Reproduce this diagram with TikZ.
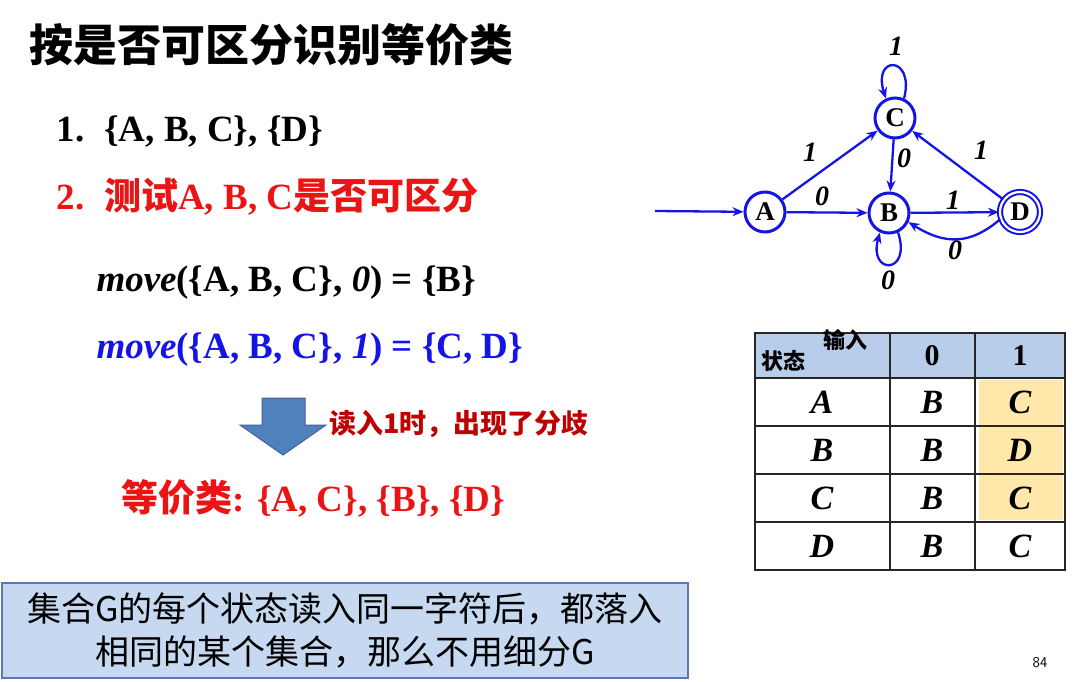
\documentclass[tikz,border=0pt]{standalone}
\usepackage{fontspec}
\setmainfont{Liberation Serif}
\newfontfamily\cjk{Noto Sans CJK SC}
\usetikzlibrary{arrows.meta}
\definecolor{dblue}{RGB}{20,20,230}
\definecolor{dred}{RGB}{235,20,20}
\definecolor{hdr}{RGB}{183,205,233}
\definecolor{yel}{RGB}{255,232,170}
\definecolor{boxf}{RGB}{198,217,241}
\definecolor{boxd}{RGB}{90,120,180}
\definecolor{arrf}{RGB}{79,129,189}
\begin{document}
\begin{tikzpicture}[x=1pt,y=-1pt,
  st/.style={circle,draw=dblue,line width=3pt,minimum size=40pt,inner sep=0pt,font=\fontsize{27}{27}\selectfont\bfseries},
  ed/.style={draw=dblue,line width=2.3pt,-{Stealth[length=11pt,width=9pt]}},
  el/.style={font=\fontsize{28}{28}\selectfont\bfseries\itshape},
  tl/.style={anchor=west,font=\fontsize{37}{37}\selectfont\bfseries},
  cell/.style={font=\fontsize{34}{34}\selectfont\bfseries\itshape}]
\useasboundingbox (0,0) rectangle (1088,682);
\node[anchor=west,font=\cjk\fontsize{44}{44}\selectfont\bfseries] (title) at (26,45) {按是否可区分识别等价类};
\node[tl] (l1) at (53,132) {1.\hspace{20pt}\{A, B, C\}, \{D\}};
\node[tl,text=dred] (l2) at (53,197) {2.\hspace{20pt}{\cjk 测试}A, B, C{\cjk 是否可区分}};
\node[tl] (l3) at (93,283) {\textit{move}(\{A, B, C\}, \textit{0}) = \{B\}};
\node[tl,text=dblue] (l4) at (93,350) {\textit{move}(\{A, B, C\}, \textit{1}) = \{C, D\}};
\draw[draw=boxd!80!black,line width=1pt,fill=arrf] (262,398) -- (305,398) -- (305,425) -- (326,425) -- (283,455) -- (240,425) -- (262,425) -- cycle;
\node[anchor=west,text=red!75!black,font=\cjk\fontsize{27}{27}\selectfont\bfseries] (note) at (326,424) {读入1时，出现了分歧};
\node[tl,text=dred] (l5) at (118,498) {{\cjk 等价类}: \{A, C\}, \{B\}, \{D\}};
\node[draw=boxd,line width=1.2pt,fill=boxf,minimum width=686pt,minimum height=95pt,align=center,font=\cjk\fontsize{34}{43}\selectfont] (box) at (345,630.5) {集合G的每个状态读入同一字符后，都落入\\相同的某个集合，那么不用细分G};
\node[font=\fontsize{15}{15}\selectfont\sffamily] (pg) at (1040,663) {84};
% graph
\node[st] (A) at (765,212) {A};
\node[st] (C) at (895,118) {C};
\node[st] (B) at (889,213) {B};
\node[st,double=white,double distance=2.2pt,line width=2pt,minimum size=40pt] (D) at (1020,212) {D};
\coordinate (s) at (655,211);
\draw[ed] (s) -- (A);
\draw[ed] (A) -- (C);
\draw[ed] (A) -- (B);
\draw[ed] (C) -- (B);
\draw[ed] (B) -- (D);
\draw[ed] (D) -- (C);
\draw[ed] (D.200) .. controls (970,245) and (945,245) .. (B.-25);
\draw[ed] (C.65) .. controls (915,55) and (872,55) .. (C.115);
\draw[ed] (B.-65) .. controls (912,275) and (868,275) .. (B.-115);
\node[el] at (810,152) {1};
\node[el] at (904,158) {0};
\node[el] at (822,196) {0};
\node[el] at (953,200) {1};
\node[el] at (955,250) {0};
\node[el] at (981,150) {1};
\node[el] at (896,46) {1};
\node[el] at (888,280) {0};
% table
\fill[hdr] (755,333) rectangle (1065,378);
\fill[yel] (979,380) rectangle (1063,520);
\draw[line width=1.4pt,black!85] (755,333) rectangle (1065,570);
\foreach \y in {378,426,474,522} \draw[line width=1.4pt,black!85] (755,\y) -- (1065,\y);
\foreach \x in {890,975} \draw[line width=1.4pt,black!85] (\x,333) -- (\x,570);
\node[font=\cjk\fontsize{22}{22}\selectfont\bfseries] (hin) at (845,340) {输入};
\node[font=\cjk\fontsize{22}{22}\selectfont\bfseries] (hst) at (783,361) {状态};
\node[font=\fontsize{30}{30}\selectfont\bfseries] (h0) at (932,356) {0};
\node[font=\fontsize{30}{30}\selectfont\bfseries] (h1) at (1020,356) {1};
\foreach \r/\y/\a/\b in {A/402/B/C,B/450/B/D,C/498/B/C,D/546/B/C}{
  \node[cell] at (822,\y) {\r};
  \node[cell] at (932,\y) {\a};
  \node[cell] at (1020,\y) {\b};
}
\end{tikzpicture}
\end{document}
